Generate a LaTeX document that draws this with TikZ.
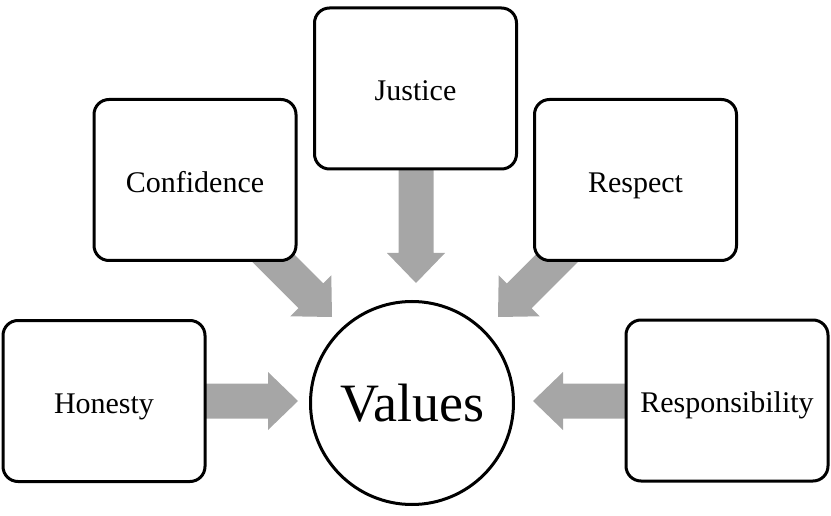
\documentclass[tikz,border=0pt]{standalone}
\usepackage{fontspec}
\setmainfont{Liberation Serif}
\definecolor{arrowgray}{RGB}{166,166,166}
\newcommand{\vlowtxt}[1]{\raisebox{-7pt}{#1}}
\tikzset{
  valbox/.style={draw=black, line width=3pt, rounded corners=15pt, fill=white,
    minimum width=202pt, minimum height=161pt, inner sep=0pt,
    text height=1.05em, text depth=0pt,
    font=\fontsize{30}{36}\selectfont},
  valcircle/.style={draw=black, line width=3pt, circle, fill=white,
    minimum size=203pt, inner sep=0pt, font=\fontsize{54}{64}\selectfont},
  blockarr/.pic={\fill[arrowgray] (0,0) -- (-30,29) -- (-30,17.5) -- (-#1,17.5)
    -- (-#1,-17.5) -- (-30,-17.5) -- (-30,-29) -- cycle;}
}
\begin{document}
\begin{tikzpicture}[x=1pt,y=-1pt]
\useasboundingbox (0,0) rectangle (831,516);
% arrow tips
\coordinate (tH) at (298,401);
\coordinate (tC) at (332,317);
\coordinate (tJ) at (416,283);
\coordinate (tR) at (498,317);
\coordinate (tS) at (533,401);
\pic[rotate=0] at (tH) {blockarr=100};
\pic[rotate=-45] at (tC) {blockarr=100};
\pic[rotate=-90] at (tJ) {blockarr=118};
\pic[rotate=-135] at (tR) {blockarr=100};
\pic[rotate=180] at (tS) {blockarr=100};
% boxes
\node[valbox] (honesty) at (104,401) {\vlowtxt{Honesty}};
\node[valbox] (confidence) at (195,180) {\vlowtxt{Confidence}};
\node[valbox] (justice) at (415.5,88.5) {\vlowtxt{Justice}};
\node[valbox] (respect) at (635.5,180) {\vlowtxt{Respect}};
\node[valbox] (responsibility) at (727,400.5) {\vlowtxt{Responsibility}};
\node[valcircle] (values) at (412,403) {Values};
\end{tikzpicture}
\end{document}
